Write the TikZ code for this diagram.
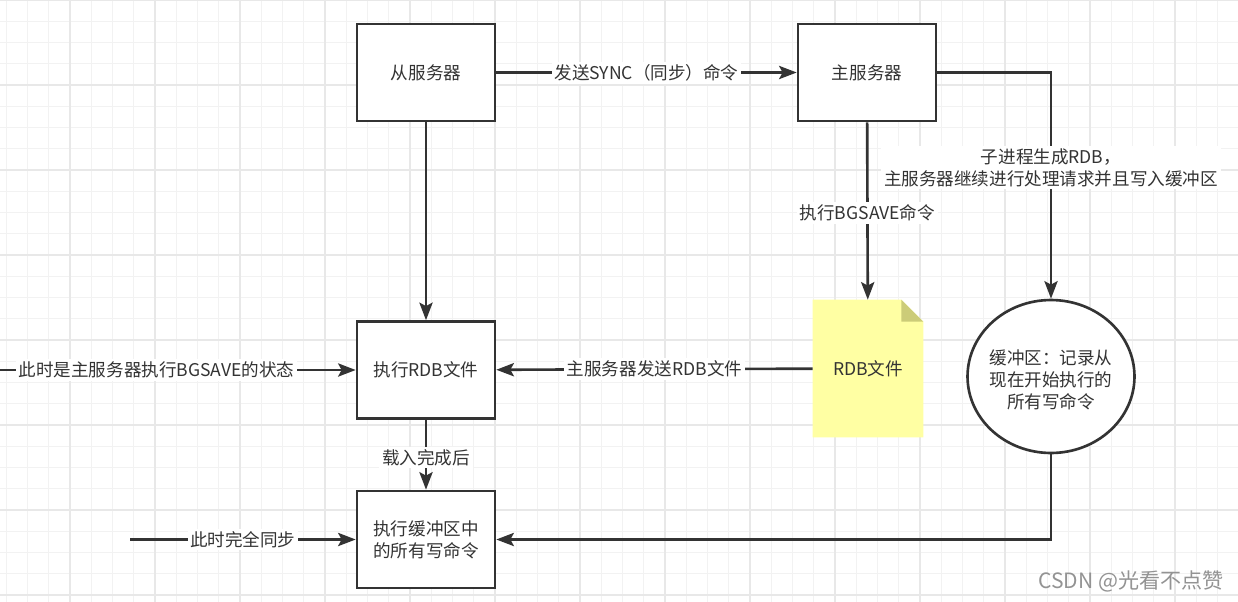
\documentclass[tikz,border=0pt]{standalone}
\usepackage{fontspec}
\setmainfont{Noto Sans CJK SC}
\usetikzlibrary{arrows.meta,shapes.geometric}

\definecolor{ink}{HTML}{333333}
\definecolor{gridlo}{HTML}{F2F2F2}
\definecolor{gridhi}{HTML}{E8E8E8}
\definecolor{notefill}{HTML}{FFFFA3}
\definecolor{notefold}{HTML}{CCCC78}

\begin{document}
\begin{tikzpicture}[
  x=0.02cm, y=-0.02cm,
  >={Stealth[length=10pt,width=7.5pt,inset=2pt]},
  every node/.style={font=\fontsize{10}{12.5}\selectfont, text=ink},
  box/.style={draw=ink, line width=1.5pt, minimum width=2.76cm,
              minimum height=1.94cm, align=center, fill=white},
  flow/.style={->, draw=ink, line width=1.5pt},
  lbl/.style={fill=white, inner sep=1.5pt, align=center},
]
  \useasboundingbox (0,0) rectangle (1238,602);
  \fill[white] (0,0) rectangle (1238,602);

  % Background grid
  \foreach \i in {0,...,58}
    \draw[gridlo, line width=0.6pt] ({6.25+21.25*\i},0) -- ++(0,602);
  \foreach \j in {0,...,28}
    \draw[gridlo, line width=0.6pt] (0,{21.25*\j}) -- ++(1238,0);
  \foreach \i in {0,...,13}
    \draw[gridhi, line width=0.8pt] ({70+85*\i},0) -- ++(0,602);
  \foreach \j in {0,...,7}
    \draw[gridhi, line width=0.8pt] (0,{85*\j}) -- ++(1238,0);

  % Nodes
  \node[box] (slave) at (426,72.5) {从服务器};
  \node[box] (master) at (867,72.5) {主服务器};
  \node[box] (load) at (426,370) {执行RDB文件};
  \node[box] (replay) at (426,539.5) {执行缓冲区中\\的所有写命令};
  \node[draw=ink, line width=1.5pt, ellipse, inner sep=0pt,
        minimum width=3.34cm, minimum height=3.06cm, fill=white]
    (buf) at (1051,376.5) {};
  \node[align=center] (buftext) at (1051,380)
    {缓冲区：记录从\\现在开始执行的\\所有写命令};

  % RDB file note
  \node[minimum width=2.2cm, minimum height=2.74cm] (rdb) at (868,368.5) {};
  \fill[notefill] (rdb.north west) -- ([xshift=-0.44cm]rdb.north east)
    -- ([yshift=-0.44cm]rdb.north east) -- (rdb.south east)
    -- (rdb.south west) -- cycle;
  \fill[notefold] ([xshift=-0.44cm]rdb.north east)
    -- ([xshift=-0.44cm,yshift=-0.44cm]rdb.north east)
    -- ([yshift=-0.44cm]rdb.north east) -- cycle;
  \node at (rdb) {RDB文件};

  \coordinate (s1) at (0,370);
  \coordinate (s2) at (130,539.5);

  % Connectors
  \draw[flow] (slave) -- node[lbl] {发送SYNC（同步）命令} (master);
  \draw[flow] (master) -- node[lbl, pos=0.51] {执行BGSAVE命令} (rdb);
  \draw[flow] (master.east) -| node[lbl, pos=0.71]
    {子进程生成RDB，\\主服务器继续进行处理请求并且写入缓冲区} (buf.north);
  \draw[flow] (slave) -- (load);
  \draw[flow] (rdb) -- node[lbl] {主服务器发送RDB文件} (load);
  \draw[flow] (s1) -- node[lbl, pos=0.44] {此时是主服务器执行BGSAVE的状态} (load);
  \draw[flow] (load) -- node[lbl, pos=0.54] {载入完成后} (replay);
  \draw[flow] (s2) -- node[lbl] {此时完全同步} (replay);
  \draw[flow] (buf.south) |- (replay.east);

  % Watermark
  \node[font=\fontsize{12}{14}\selectfont, text=gray!85] (mark)
    at (1131,581) {CSDN @光看不点赞};
\end{tikzpicture}
\end{document}
